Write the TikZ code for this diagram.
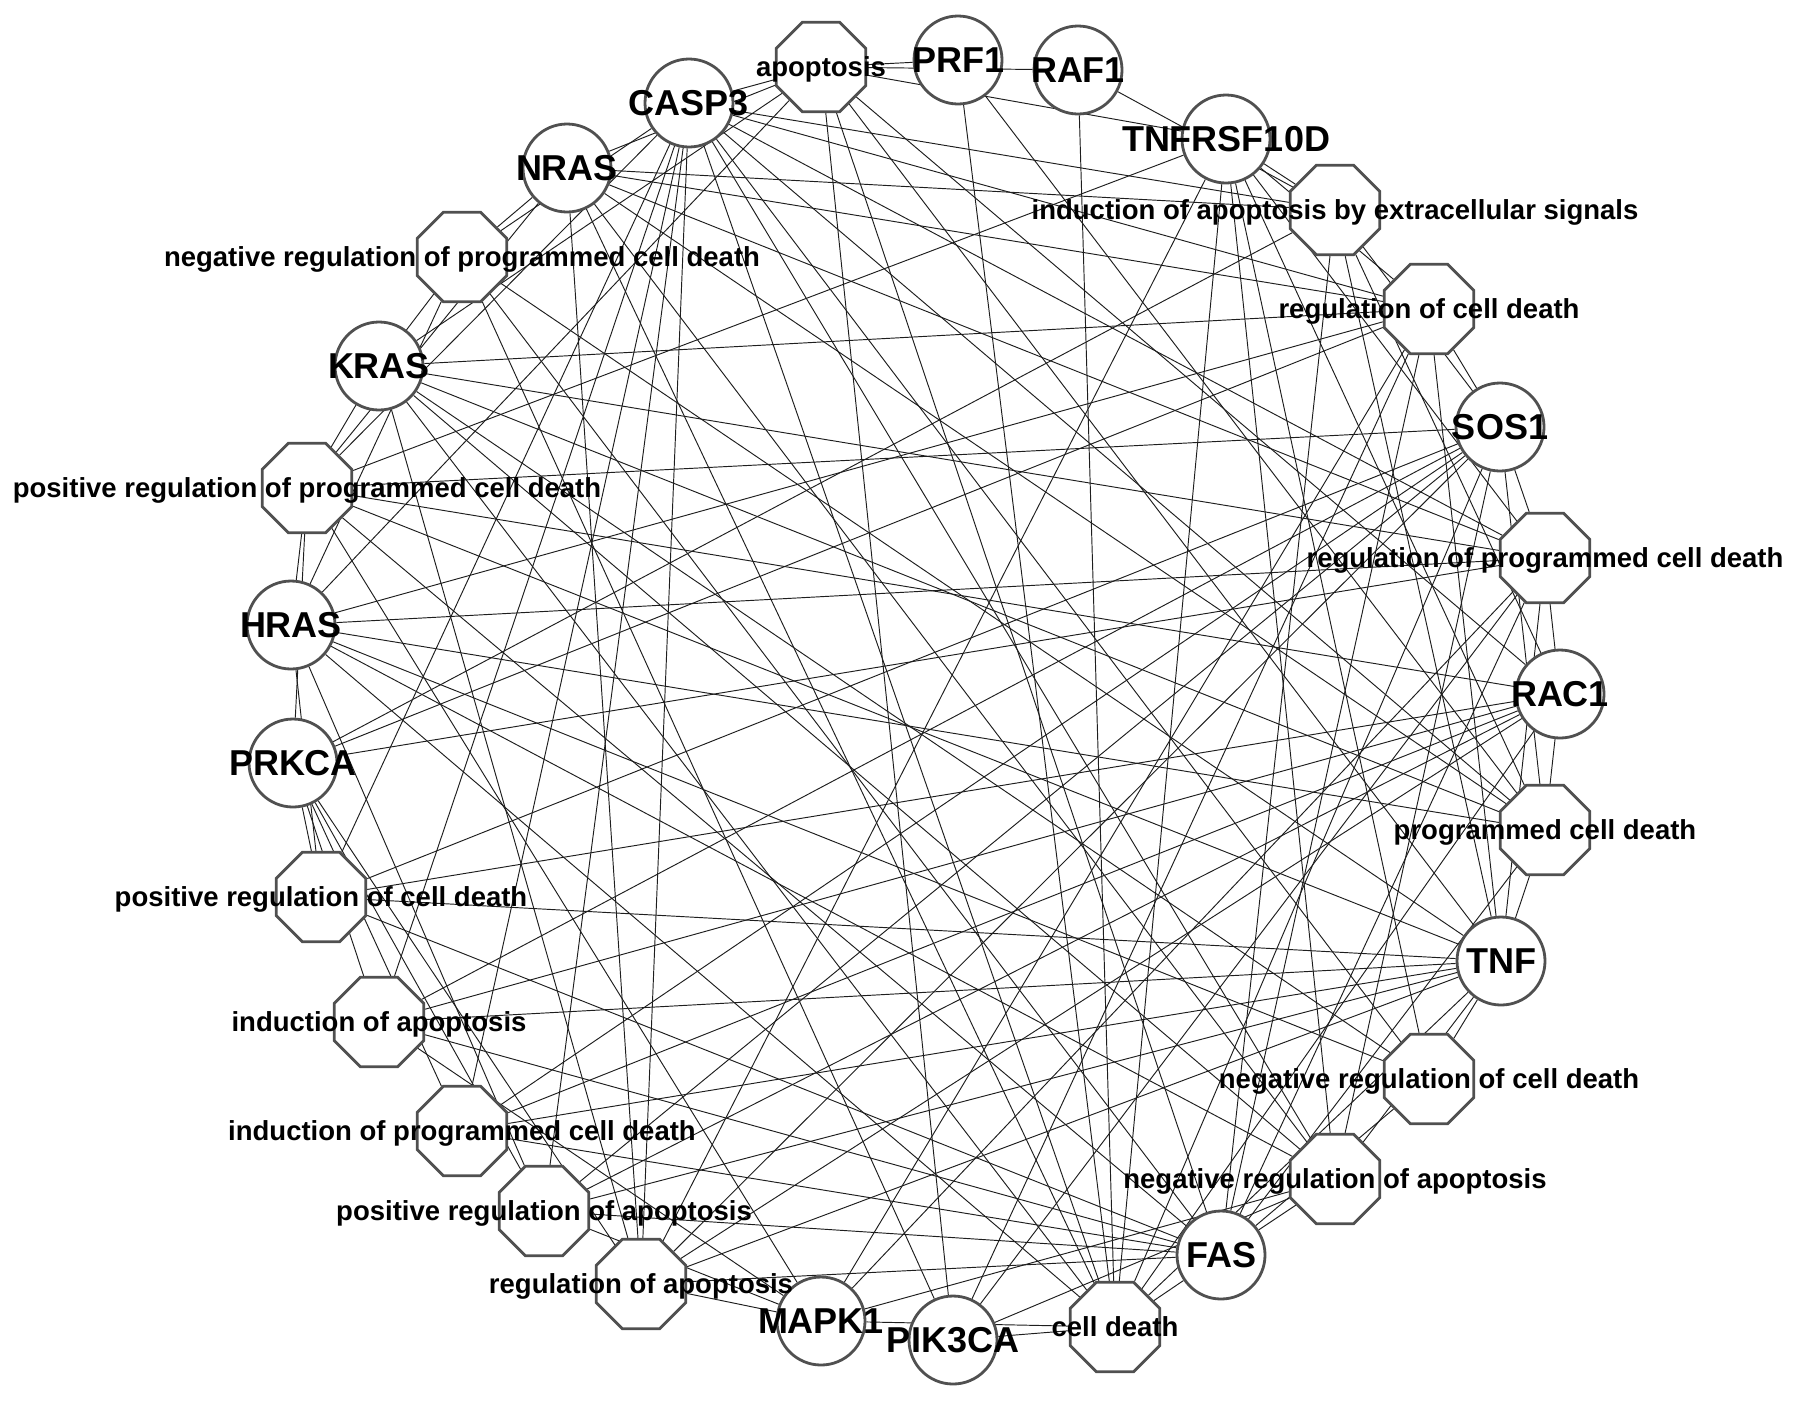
\documentclass[tikz,border=0pt]{standalone}
\usepackage{fontspec}
\setmainfont{Liberation Sans}
\usetikzlibrary{shapes.geometric}
\definecolor{nodegray}{HTML}{505050}
\definecolor{linkgray}{HTML}{1E1E1E}
\pgfdeclarelayer{edgelayer}
\pgfsetlayers{edgelayer,main}
\begin{document}
\begin{tikzpicture}[x=1pt,y=-1pt,
  gene/.style={circle, draw=nodegray, line width=2.8pt, fill=white, minimum size=88pt, inner sep=0pt},
  term/.style={regular polygon, regular polygon sides=8, draw=nodegray, line width=2.8pt, fill=white, minimum size=97pt, inner sep=0pt},
  genelab/.style={font=\fontsize{36}{40}\selectfont\bfseries, text height=25.8pt, text depth=0pt, inner sep=0pt},
  termlab/.style={font=\fontsize{27.5}{30}\selectfont\bfseries, text height=19.7pt, text depth=0pt, inner sep=0pt},
  link/.style={draw=linkgray, line width=0.95pt}]
\useasboundingbox (0,0) rectangle (1795,1401);
% gene nodes
\node[gene] (PRF1)  at (958,60)   {};
\node[gene] (RAF1)  at (1078,70)  {};
\node[gene] (TNFR)  at (1226,139) {};
\node[gene] (SOS1)  at (1500,427) {};
\node[gene] (RAC1)  at (1560,694) {};
\node[gene] (TNF)   at (1501,961) {};
\node[gene] (FAS)   at (1221,1255){};
\node[gene] (PIK)   at (953,1340) {};
\node[gene] (MAPK)  at (821,1321) {};
\node[gene] (PRKCA) at (293,763)  {};
\node[gene] (HRAS)  at (291,625)  {};
\node[gene] (KRAS)  at (379,366)  {};
\node[gene] (NRAS)  at (567,168)  {};
\node[gene] (CASP3) at (689,103)  {};
% term nodes
\node[term] (apo)   at (821,67)   {};
\node[term] (iaes)  at (1335,210) {};
\node[term] (rcd)   at (1429,309) {};
\node[term] (rpcd)  at (1545,558) {};
\node[term] (pcd)   at (1545,830) {};
\node[term] (nrcd)  at (1429,1079){};
\node[term] (nra)   at (1335,1179){};
\node[term] (cd)    at (1115,1327){};
\node[term] (ra)    at (641,1284) {};
\node[term] (pra)   at (544,1211) {};
\node[term] (ipcd)  at (462,1131) {};
\node[term] (ia)    at (379,1022) {};
\node[term] (prcd)  at (321,897)  {};
\node[term] (prpcd) at (307,488)  {};
\node[term] (nrpcd) at (462,257)  {};
% connectors
\begin{pgfonlayer}{edgelayer}
\foreach \g in {CASP3,TNF,FAS}
  \foreach \t in {apo,iaes,rcd,rpcd,pcd,nrcd,nra,cd,ra,pra,ipcd,ia,prcd,prpcd,nrpcd}
    \draw[link] (\g) -- (\t);
\foreach \t in {apo,iaes,rcd,rpcd,pcd,nrcd,nra,cd,ra,prpcd} \draw[link] (TNFR) -- (\t);
\foreach \t in {apo,pcd,cd} \draw[link] (PRF1) -- (\t);
\foreach \t in {apo,iaes,cd} \draw[link] (RAF1) -- (\t);
\foreach \t in {iaes,rcd,rpcd,pcd,nra,cd,ra,pra,ipcd,ia,prcd,prpcd} \draw[link] (SOS1) -- (\t);
\foreach \t in {apo,iaes,rpcd,pcd,cd,ra,pra,ipcd,ia,prcd,prpcd} \draw[link] (RAC1) -- (\t);
\foreach \t in {apo,rcd,rpcd,pcd,nrcd,nra,cd,ra,prpcd,nrpcd} \draw[link] (KRAS) -- (\t);
\foreach \t in {apo,iaes,rcd,rpcd,pcd,nra,cd,ra,prpcd,nrpcd} \draw[link] (NRAS) -- (\t);
\foreach \t in {apo,rcd,rpcd,pcd,nrcd,nra,cd,pra,prcd,prpcd,nrpcd} \draw[link] (HRAS) -- (\t);
\foreach \t in {iaes,rcd,rpcd,ra,pra,ipcd,ia,prcd,prpcd} \draw[link] (PRKCA) -- (\t);
\foreach \t in {rcd,rpcd,nra,cd,ra,pra,ia,prpcd} \draw[link] (MAPK) -- (\t);
\foreach \t in {apo,rcd,rpcd,nra,cd,nrpcd} \draw[link] (PIK) -- (\t);
\end{pgfonlayer}
% labels
\node[genelab] (lPRF1)  at (PRF1)  {PRF1};
\node[genelab] (lRAF1)  at (RAF1)  {RAF1};
\node[genelab] (lTNFR)  at (TNFR)  {TNFRSF10D};
\node[genelab] (lSOS1)  at (SOS1)  {SOS1};
\node[genelab] (lRAC1)  at (RAC1)  {RAC1};
\node[genelab] (lTNF)   at (TNF)   {TNF};
\node[genelab] (lFAS)   at (FAS)   {FAS};
\node[genelab] (lPIK)   at (PIK)   {PIK3CA};
\node[genelab] (lMAPK)  at (MAPK)  {MAPK1};
\node[genelab] (lPRKCA) at (PRKCA) {PRKCA};
\node[genelab] (lHRAS)  at (HRAS)  {HRAS};
\node[genelab] (lKRAS)  at (KRAS)  {KRAS};
\node[genelab] (lNRAS)  at (NRAS)  {NRAS};
\node[genelab] (lCASP3) at (CASP3) {CASP3};
\node[termlab] (lapo)   at (apo)   {apoptosis};
\node[termlab] (liaes)  at (iaes)  {induction of apoptosis by extracellular signals};
\node[termlab] (lrcd)   at (rcd)   {regulation of cell death};
\node[termlab] (lrpcd)  at (rpcd)  {regulation of programmed cell death};
\node[termlab] (lpcd)   at (pcd)   {programmed cell death};
\node[termlab] (lnrcd)  at (nrcd)  {negative regulation of cell death};
\node[termlab] (lnra)   at (nra)   {negative regulation of apoptosis};
\node[termlab] (lcd)    at (cd)    {cell death};
\node[termlab] (lra)    at (ra)    {regulation of apoptosis};
\node[termlab] (lpra)   at (pra)   {positive regulation of apoptosis};
\node[termlab] (lipcd)  at (ipcd)  {induction of programmed cell death};
\node[termlab] (lia)    at (ia)    {induction of apoptosis};
\node[termlab] (lprcd)  at (prcd)  {positive regulation of cell death};
\node[termlab] (lprpcd) at (prpcd) {positive regulation of programmed cell death};
\node[termlab] (lnrpcd) at (nrpcd) {negative regulation of programmed cell death};
\end{tikzpicture}
\end{document}
